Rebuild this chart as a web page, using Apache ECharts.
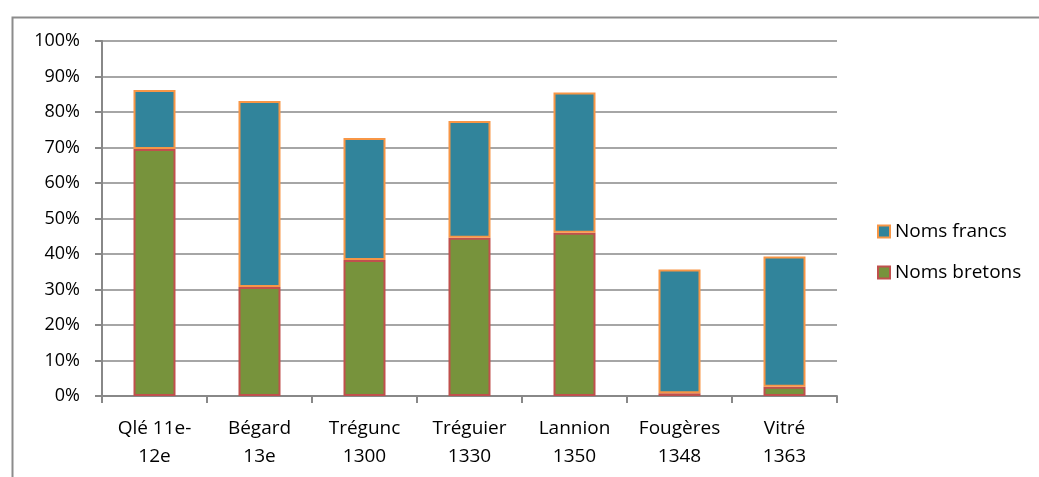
<!DOCTYPE html>
<html>
<head>
<meta charset="utf-8">
<script src="https://cdn.jsdelivr.net/npm/echarts@6/dist/echarts.min.js"></script>
<style>html,body{margin:0;padding:0;background:#fff}#c{width:1039px;height:477px}</style>
</head>
<body>
<div id="c"></div>
<script>
const categories = ["Qlé 11e-\n12e", "Bégard\n13e", "Trégunc\n1300", "Tréguier\n1330", "Lannion\n1350", "Fougères\n1348", "Vitré\n1363"];
const nomsBretons = [69.6, 30.7, 38.3, 44.6, 46.0, 0.8, 2.6];
const nomsFrancs = [16.6, 52.4, 34.4, 32.9, 39.5, 34.8, 36.7];
const yTicks = [0, 10, 20, 30, 40, 50, 60, 70, 80, 90, 100];

const chart = echarts.init(document.getElementById('c'), null, {renderer: 'canvas'});
const font = '"Open Sans", "Liberation Sans", sans-serif';
chart.setOption({
  animation: false,
  graphic: [{
    type: 'rect', left: 10, top: 15, z: -1,
    shape: {width: 1050, height: 480},
    style: {fill: 'none', stroke: '#8c8c8c', lineWidth: 2}
  }],
  grid: {left: 102, right: 202, top: 41, bottom: 81, containLabel: false},
  legend: {
    orient: 'vertical', left: 872, top: 217, itemGap: 22,
    itemWidth: 12, itemHeight: 12, icon: 'rect',
    data: ['Noms francs', 'Noms bretons'],
    textStyle: {fontFamily: font, fontSize: 19, color: '#000'}
  },
  xAxis: {
    type: 'category', data: categories,
    axisLine: {lineStyle: {color: '#888', width: 2}},
    axisTick: {show: true, length: 7, lineStyle: {color: '#888', width: 2}},
    axisLabel: {interval: 0, fontFamily: font, fontSize: 19, color: '#000', lineHeight: 28, margin: 19}
  },
  yAxis: {
    type: 'value', min: 0, max: 100, interval: 10,
    axisLine: {show: true, lineStyle: {color: '#888', width: 2}},
    axisTick: {show: true, length: 7, lineStyle: {color: '#888', width: 2}},
    splitLine: {lineStyle: {color: '#888', width: 1.5}},
    axisLabel: {fontFamily: font, fontSize: 18, color: '#000', margin: 22,
      formatter: v => yTicks.includes(v) ? v + '%' : ''}
  },
  series: [
    {name: 'Noms bretons', type: 'bar', stack: 'a', data: nomsBretons, barWidth: '40%',
     itemStyle: {color: '#77933C', borderColor: '#C0504D', borderWidth: 2}},
    {name: 'Noms francs', type: 'bar', stack: 'a', data: nomsFrancs, barWidth: '40%',
     itemStyle: {color: '#31849B', borderColor: '#F79646', borderWidth: 2}}
  ]
});
</script>
</body>
</html>
